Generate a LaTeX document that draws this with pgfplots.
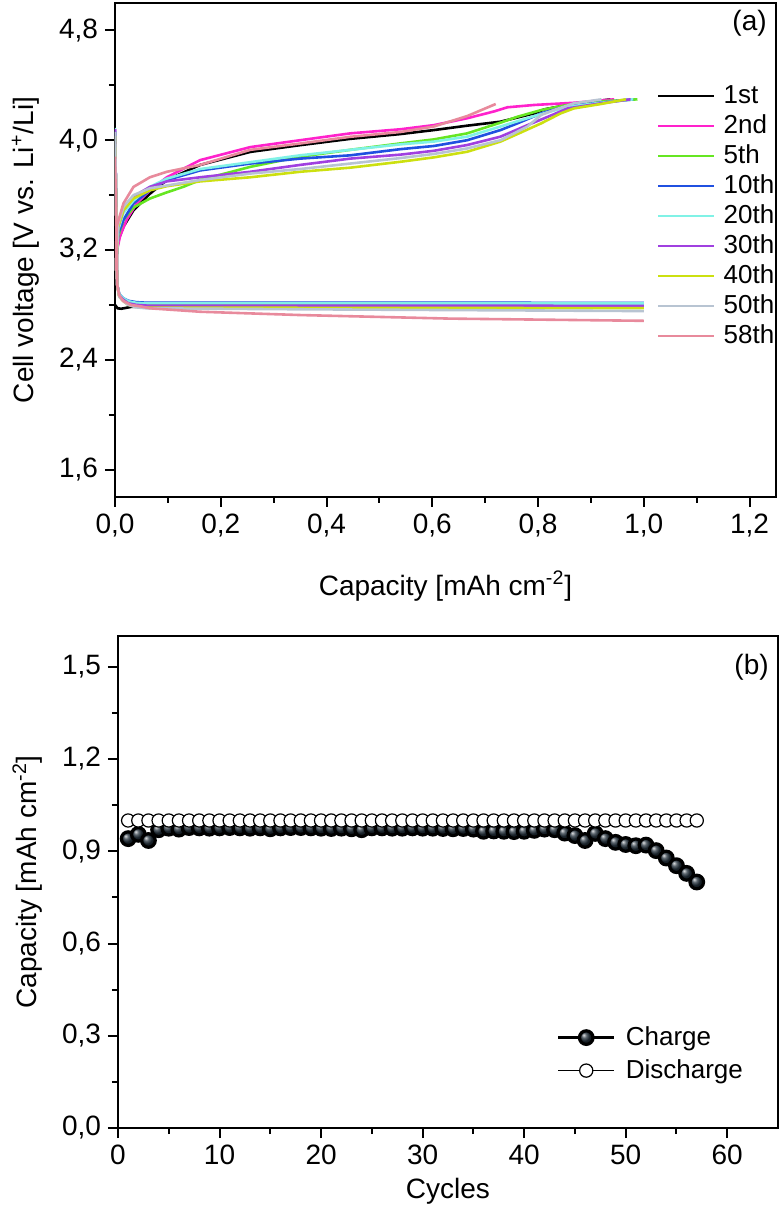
\documentclass[border=0pt]{standalone}
\usepackage{fontspec}
\setmainfont{Liberation Sans}
\usepackage{pgfplots}
\pgfplotsset{compat=1.18}

\definecolor{c1}{HTML}{000000}
\definecolor{c2}{HTML}{FF22CC}
\definecolor{c5}{HTML}{66E622}
\definecolor{c10}{HTML}{2050E0}
\definecolor{c20}{HTML}{80F2E6}
\definecolor{c30}{HTML}{A040E0}
\definecolor{c40}{HTML}{CCE010}
\definecolor{c50}{HTML}{B8C4D2}
\definecolor{c58}{HTML}{E88A9C}
\definecolor{ballc}{HTML}{24313C}

\pgfplotsset{
  panel/.style={
    scale only axis,
    axis line style={line width=1.1pt},
    tick align=outside, tick pos=left,
    major tick length=5pt, minor tick length=3pt,
    every tick/.style={line width=1pt,black},
    tick label style={font=\fontsize{14}{16}\selectfont},
    label style={font=\fontsize{14}{16}\selectfont},
    ylabel shift=3pt,
    legend cell align=left,
    /pgf/number format/assume math mode=true,
  },
  cyc/.style={line width=1.3pt, no marks, color=#1},
}

\begin{document}
\begin{tikzpicture}
\useasboundingbox (0,0) rectangle (391pt,606pt);

% ---- (a) voltage profiles ----
\begin{axis}[panel,
  at={(57.5pt,357.5pt)}, anchor=south west,
  width=330.5pt, height=247pt,
  xmin=0, xmax=1.25, ymin=1.4, ymax=5.0,
  xtick={0,0.2,0.4,0.6,0.8,1.0,1.2}, minor x tick num=1,
  ytick={1.6,2.4,3.2,4.0,4.8}, minor y tick num=1,
  ticklabel style={/pgf/number format/.cd, use comma, fixed, fixed zerofill, precision=1},
  xlabel={Capacity [mAh cm\textsuperscript{-2}]},
  ylabel={Cell voltage [V vs. Li\textsuperscript{+}/Li]},
  xlabel style={yshift=-10pt},
  legend style={draw=none, fill=none, at={(0.82,0.84)}, anchor=north west,
    inner sep=0pt, row sep=1.5pt, font=\fontsize{13}{15}\selectfont,
    nodes={inner sep=1pt, text height=9.5pt, text depth=2pt}},
  legend image code/.code={\draw[#1, line width=1pt] (0pt,0pt) -- (28pt,0pt); \path (31pt,0pt);},
]
% 1st
\addplot[cyc=c1] coordinates {(0,3.05)(0.004,3.2)(0.006,3.27)(0.016,3.37)(0.035,3.49)(0.066,3.61)(0.098,3.71)(0.161,3.82)(0.256,3.915)(0.35,3.964)(0.445,4.01)(0.54,4.045)(0.603,4.074)(0.666,4.106)(0.729,4.135)(0.793,4.196)(0.812,4.225)(0.856,4.257)(0.937,4.298)};
\addlegendentry{1st}
\addplot[cyc=c1, forget plot] coordinates {(0,2.80)(0.005,2.775)(0.012,2.772)(0.03,2.785)(0.06,2.79)(1.0,2.79)};
% 2nd
\addplot[cyc=c2] coordinates {(0,3.05)(0.004,3.2)(0.0095,3.30)(0.022,3.42)(0.041,3.54)(0.066,3.635)(0.098,3.73)(0.161,3.855)(0.256,3.95)(0.35,4.0)(0.445,4.05)(0.54,4.08)(0.603,4.11)(0.666,4.16)(0.717,4.21)(0.742,4.24)(0.793,4.257)(0.868,4.273)(0.944,4.298)};
\addlegendentry{2nd}
\addplot[cyc=c2, forget plot] coordinates {(0,4.08)(0.002,3.6)(0.004,2.95)(0.008,2.87)(0.015,2.84)(0.025,2.815)(0.04,2.802)(0.06,2.798)(1.0,2.796)};
% 5th
\addplot[cyc=c5] coordinates {(0,3.05)(0.004,3.2)(0.006,3.30)(0.016,3.42)(0.035,3.51)(0.066,3.575)(0.098,3.62)(0.129,3.66)(0.161,3.71)(0.256,3.806)(0.35,3.88)(0.445,3.93)(0.54,3.977)(0.603,4.006)(0.666,4.05)(0.729,4.128)(0.761,4.171)(0.806,4.22)(0.856,4.257)(0.919,4.283)(0.988,4.298)};
\addlegendentry{5th}
\addplot[cyc=c5, forget plot] coordinates {(0,4.06)(0.002,3.6)(0.004,2.95)(0.008,2.87)(0.015,2.845)(0.025,2.822)(0.04,2.81)(0.06,2.806)(1.0,2.805)};
% 10th
\addplot[cyc=c10] coordinates {(0,3.05)(0.004,3.2)(0.006,3.32)(0.016,3.42)(0.035,3.54)(0.066,3.635)(0.098,3.71)(0.161,3.78)(0.256,3.83)(0.35,3.866)(0.445,3.89)(0.54,3.935)(0.603,3.958)(0.666,4.0)(0.729,4.074)(0.761,4.123)(0.806,4.196)(0.856,4.25)(0.98,4.298)};
\addlegendentry{10th}
\addplot[cyc=c10, forget plot] coordinates {(0,4.07)(0.002,3.6)(0.004,2.95)(0.008,2.88)(0.015,2.85)(0.025,2.83)(0.04,2.82)(0.06,2.816)(1.0,2.815)};
% 20th
\addplot[cyc=c20] coordinates {(0,3.05)(0.004,3.2)(0.006,3.345)(0.016,3.47)(0.035,3.56)(0.066,3.66)(0.098,3.72)(0.161,3.79)(0.256,3.84)(0.35,3.89)(0.445,3.93)(0.54,3.97)(0.603,3.99)(0.666,4.026)(0.729,4.10)(0.793,4.176)(0.856,4.244)(0.919,4.273)(0.98,4.298)};
\addlegendentry{20th}
\addplot[cyc=c20, forget plot] coordinates {(0,4.09)(0.002,3.6)(0.004,2.95)(0.008,2.88)(0.015,2.85)(0.025,2.826)(0.04,2.815)(0.06,2.811)(1.0,2.81)};
% 30th
\addplot[cyc=c30] coordinates {(0,3.05)(0.004,3.2)(0.006,3.37)(0.016,3.49)(0.035,3.59)(0.066,3.66)(0.098,3.70)(0.161,3.73)(0.256,3.77)(0.35,3.82)(0.445,3.866)(0.54,3.895)(0.603,3.923)(0.666,3.965)(0.729,4.026)(0.78,4.11)(0.818,4.17)(0.856,4.232)(0.919,4.269)(0.975,4.298)};
\addlegendentry{30th}
\addplot[cyc=c30, forget plot] coordinates {(0,4.08)(0.002,3.6)(0.004,2.95)(0.008,2.87)(0.015,2.84)(0.025,2.812)(0.04,2.8)(0.06,2.795)(1.0,2.793)};
% 40th
\addplot[cyc=c40] coordinates {(0,3.05)(0.004,3.2)(0.006,3.37)(0.016,3.49)(0.035,3.575)(0.066,3.635)(0.098,3.665)(0.161,3.70)(0.256,3.73)(0.35,3.77)(0.445,3.80)(0.54,3.843)(0.603,3.875)(0.666,3.916)(0.729,3.99)(0.761,4.045)(0.806,4.123)(0.843,4.196)(0.868,4.232)(0.919,4.264)(0.966,4.298)};
\addlegendentry{40th}
\addplot[cyc=c40, forget plot] coordinates {(0,4.03)(0.002,3.6)(0.004,2.95)(0.008,2.86)(0.015,2.83)(0.025,2.80)(0.04,2.786)(0.06,2.78)(1.0,2.776)};
% 50th
\addplot[cyc=c50] coordinates {(0,3.05)(0.004,3.2)(0.006,3.39)(0.016,3.515)(0.035,3.60)(0.066,3.65)(0.098,3.67)(0.161,3.71)(0.256,3.757)(0.35,3.79)(0.445,3.83)(0.54,3.87)(0.603,3.90)(0.666,3.94)(0.729,4.0)(0.78,4.10)(0.806,4.184)(0.83,4.22)(0.868,4.269)(0.92,4.298)};
\addlegendentry{50th}
\addplot[cyc=c50, forget plot] coordinates {(0,4.06)(0.002,3.6)(0.004,2.95)(0.008,2.86)(0.015,2.83)(0.025,2.80)(0.04,2.782)(0.06,2.775)(0.35,2.768)(1.0,2.755)};
% 58th
\addplot[cyc=c58] coordinates {(0,3.05)(0.002,3.175)(0.003,3.37)(0.016,3.54)(0.035,3.66)(0.066,3.73)(0.098,3.77)(0.161,3.82)(0.256,3.93)(0.35,3.976)(0.445,4.025)(0.54,4.06)(0.603,4.10)(0.666,4.176)(0.72,4.264)};
\addlegendentry{58th}
\addplot[cyc=c58, forget plot] coordinates {(0,3.88)(0.002,3.5)(0.004,2.95)(0.008,2.87)(0.015,2.83)(0.03,2.80)(0.05,2.788)(0.066,2.775)(0.161,2.75)(0.35,2.726)(0.634,2.70)(1.0,2.684)};
\node[font=\fontsize{14}{16}\selectfont] at (rel axis cs:0.96,0.96) {(a)};
\end{axis}

% ---- (b) capacity vs cycles ----
\begin{axis}[panel,
  at={(59pt,42pt)}, anchor=south west,
  width=330pt, height=246pt,
  xmin=0, xmax=65, ymin=0, ymax=1.6,
  xtick={0,10,...,60}, minor x tick num=1,
  ytick={0,0.3,0.6,0.9,1.2,1.5}, minor y tick num=1,
  yticklabel style={/pgf/number format/.cd, use comma, fixed, fixed zerofill, precision=1},
  xlabel={Cycles},
  ylabel={Capacity [mAh cm\textsuperscript{-2}]},
  legend style={draw=none, fill=none, at={(0.664,0.212)}, anchor=north west,
    inner sep=0pt, row sep=3pt, font=\fontsize{13}{15}\selectfont,
    nodes={inner sep=1pt, text height=9.5pt, text depth=2pt}},
  legend image code/.code={\draw[mark repeat=2,mark phase=2,#1] plot coordinates {(0pt,0pt) (14pt,0pt) (28pt,0pt)}; \path (32pt,0pt);},
]
\addplot[black, line width=1.6pt, mark=ball, mark size=3.4pt, mark options={ball color=ballc}] coordinates {
(1,0.941)(2,0.955)(3,0.935)(4,0.970)(5,0.975)(6,0.972)(7,0.977)(8,0.976)(9,0.975)(10,0.976)
(11,0.977)(12,0.976)(13,0.975)(14,0.976)(15,0.973)(16,0.976)(17,0.977)(18,0.977)(19,0.976)(20,0.975)
(21,0.974)(22,0.975)(23,0.973)(24,0.970)(25,0.976)(26,0.976)(27,0.975)(28,0.975)(29,0.976)(30,0.975)
(31,0.975)(32,0.974)(33,0.973)(34,0.974)(35,0.972)(36,0.965)(37,0.966)(38,0.965)(39,0.964)(40,0.965)
(41,0.968)(42,0.972)(43,0.970)(44,0.959)(45,0.951)(46,0.935)(47,0.958)(48,0.941)(49,0.929)(50,0.922)
(51,0.918)(52,0.920)(53,0.902)(54,0.878)(55,0.853)(56,0.828)(57,0.800)};
\addlegendentry{Charge}
\addplot[black, line width=0.8pt, mark=*, mark size=3.3pt, mark options={fill=white, line width=0.6pt}] coordinates {
(1,1)(2,1)(3,1)(4,1)(5,1)(6,1)(7,1)(8,1)(9,1)(10,1)
(11,1)(12,1)(13,1)(14,1)(15,1)(16,1)(17,1)(18,1)(19,1)(20,1)
(21,1)(22,1)(23,1)(24,1)(25,1)(26,1)(27,1)(28,1)(29,1)(30,1)
(31,1)(32,1)(33,1)(34,1)(35,1)(36,1)(37,1)(38,1)(39,1)(40,1)
(41,1)(42,1)(43,1)(44,1)(45,1)(46,1)(47,1)(48,1)(49,1)(50,1)
(51,1)(52,1)(53,1)(54,1)(55,1)(56,1)(57,1)};
\addlegendentry{Discharge}
\node[font=\fontsize{14}{16}\selectfont] at (rel axis cs:0.96,0.937) {(b)};
\end{axis}
\end{tikzpicture}
\end{document}
